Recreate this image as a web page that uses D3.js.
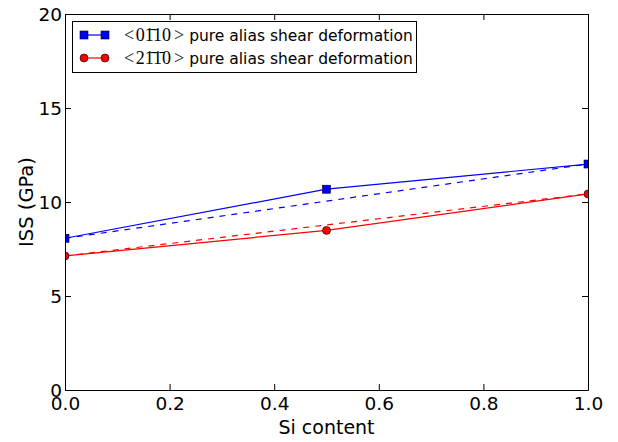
<!DOCTYPE html>
<html>
<head>
<meta charset="utf-8">
<script src="https://cdn.jsdelivr.net/npm/d3@7"></script>
<style>
  html, body { margin: 0; padding: 0; background: #fff; }
  svg { display: block; font-family: "DejaVu Sans", sans-serif; }
</style>
</head>
<body>
<svg id="chart" width="618" height="442"></svg>
<script>
// Si content on the x axis
const siContent = [0.0, 0.5, 1.0];
// Ideal shear strength (GPa) along each direction
const issPrism = [8.07, 10.68, 12.02];   // <0-110>
const issBasal = [7.13, 8.49, 10.43];    // <2-1-10>
// Linear (end-member) interpolation lines
const mixEnds = [0.0, 1.0];
const prismLinear = [8.07, 12.02];
const basalLinear = [7.13, 10.43];
// Tick values
const xTicks = [0.0, 0.2, 0.4, 0.6, 0.8, 1.0];
const yTicks = [0, 5, 10, 15, 20];
const seriesNames = ["pure alias shear deformation", "pure alias shear deformation"];
// Miller-Bravais direction indices (combining macron marks a negative index)
const directionLabels = ["01\u030410", "21\u03041\u03040"];

const svg = d3.select("#chart");
const margin = { left: 65, right: 30, top: 14, bottom: 52 };
const W = 618, H = 442;
const iw = W - margin.left - margin.right;
const ih = H - margin.top - margin.bottom;

const x = d3.scaleLinear().domain([0, 1]).range([margin.left, margin.left + iw]);
const y = d3.scaleLinear().domain([0, 20]).range([margin.top + ih, margin.top]);

svg.append("defs").append("clipPath").attr("id", "plotClip")
  .append("rect").attr("x", margin.left).attr("y", margin.top)
  .attr("width", iw).attr("height", ih);

const plot = svg.append("g").attr("clip-path", "url(#plotClip)");
const line = d3.line().x((d) => x(d[0])).y((d) => y(d[1]));

function drawSeries(xs, vals, lin, color, shape) {
  plot.append("path")
    .datum(mixEnds.map((v, i) => [v, lin[i]]))
    .attr("d", line).attr("fill", "none").attr("stroke", color)
    .attr("stroke-width", 1.2).attr("stroke-dasharray", "6,6");
  plot.append("path")
    .datum(xs.map((v, i) => [v, vals[i]]))
    .attr("d", line).attr("fill", "none").attr("stroke", color)
    .attr("stroke-width", 1.2);
  const pts = plot.selectAll(null).data(xs.map((v, i) => [v, vals[i]])).enter();
  if (shape === "square") {
    pts.append("rect")
      .attr("x", (d) => x(d[0]) - 4).attr("y", (d) => y(d[1]) - 4)
      .attr("width", 8).attr("height", 8)
      .attr("fill", color).attr("stroke", "#000").attr("stroke-width", 0.6);
  } else {
    pts.append("circle")
      .attr("cx", (d) => x(d[0])).attr("cy", (d) => y(d[1])).attr("r", 4)
      .attr("fill", color).attr("stroke", "#000").attr("stroke-width", 0.6);
  }
}

drawSeries(siContent, issPrism, prismLinear, "#0000ff", "square");
drawSeries(siContent, issBasal, basalLinear, "#ff0000", "circle");

// Axes with inward ticks on all four sides
const tickLen = 6;
const xb = svg.append("g").attr("transform", `translate(0,${margin.top + ih})`)
  .call(d3.axisBottom(x).tickValues(xTicks).tickFormat(d3.format(".1f"))
    .tickSizeInner(-tickLen).tickSizeOuter(0).tickPadding(7));
const xt = svg.append("g").attr("transform", `translate(0,${margin.top})`)
  .call(d3.axisTop(x).tickValues(xTicks).tickFormat("").tickSizeInner(-tickLen).tickSizeOuter(0));
const yl = svg.append("g").attr("transform", `translate(${margin.left},0)`)
  .call(d3.axisLeft(y).tickValues(yTicks).tickFormat(d3.format("d"))
    .tickSizeInner(-tickLen).tickSizeOuter(0).tickPadding(3));
const yr = svg.append("g").attr("transform", `translate(${margin.left + iw},0)`)
  .call(d3.axisRight(y).tickValues(yTicks).tickFormat("").tickSizeInner(-tickLen).tickSizeOuter(0));

[xb, xt, yl, yr].forEach((g) => {
  g.select(".domain").attr("stroke", "#000").attr("stroke-width", 1);
  g.selectAll(".tick line").attr("stroke", "#000").attr("stroke-width", 1);
  g.selectAll("text").attr("fill", "#000")
    .style("font-family", "DejaVu Sans, sans-serif").style("font-size", "18.5px");
});
xb.selectAll("text").attr("dy", "0.71em");
yl.selectAll("text").attr("dy", "0.36em");

// Axis titles
svg.append("text").attr("x", x(0.5)).attr("y", 434)
  .attr("text-anchor", "middle").style("font-size", "19px").text("Si content");
svg.append("text")
  .attr("transform", `translate(33,${y(10)}) rotate(-90)`)
  .attr("text-anchor", "middle").style("font-size", "19.5px").text("ISS (GPa)");

// Legend
const lg = svg.append("g");
lg.append("rect").attr("x", 72.5).attr("y", 21.5).attr("width", 344).attr("height", 51)
  .attr("fill", "#fff").attr("stroke", "#000").attr("stroke-width", 1);

const legendItems = [
  { color: "#0000ff", shape: "square", digits: directionLabels[0], name: seriesNames[0] },
  { color: "#ff0000", shape: "circle", digits: directionLabels[1], name: seriesNames[1] }
];
legendItems.forEach((it, i) => {
  const cy = 35 + i * 23;
  lg.append("line").attr("x1", 84).attr("x2", 105).attr("y1", cy).attr("y2", cy)
    .attr("stroke", it.color).attr("stroke-width", 1.2);
  [84, 105].forEach((cx) => {
    if (it.shape === "square") {
      lg.append("rect").attr("x", cx - 4).attr("y", cy - 4).attr("width", 8).attr("height", 8)
        .attr("fill", it.color).attr("stroke", "#000").attr("stroke-width", 0.6);
    } else {
      lg.append("circle").attr("cx", cx).attr("cy", cy).attr("r", 4)
        .attr("fill", it.color).attr("stroke", "#000").attr("stroke-width", 0.6);
    }
  });
  const t = lg.append("text").attr("x", 124).attr("y", cy + 5.5).style("font-size", "15.5px");
  t.append("tspan").style("font-family", "Liberation Serif, serif").style("font-size", "18px")
    .attr("fill", "#222").text("<");
  t.append("tspan").style("font-family", "Liberation Serif, serif").style("font-size", "18px")
    .attr("dx", 1.5).text(it.digits);
  t.append("tspan").style("font-family", "Liberation Serif, serif").style("font-size", "18px")
    .attr("fill", "#222").attr("dx", 3).text(">");
  t.append("tspan").style("font-family", "DejaVu Sans, sans-serif").attr("dx", 5).text(it.name);
});
</script>
</body>
</html>
